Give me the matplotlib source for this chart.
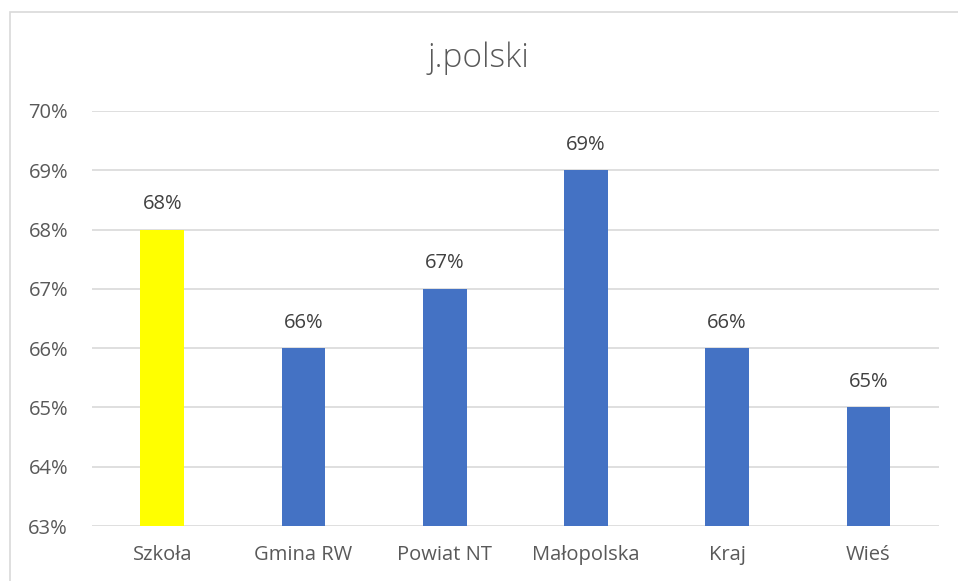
import matplotlib
matplotlib.use('Agg')
import matplotlib.pyplot as plt
from matplotlib.patches import Rectangle
from matplotlib.ticker import FuncFormatter

# dane
categories = ['Szkoła', 'Gmina RW', 'Powiat NT', 'Małopolska', 'Kraj', 'Wieś']
values = [68, 66, 67, 69, 66, 65]  # wynik w %
bar_colors = ['#FFFF00', '#4472C4', '#4472C4', '#4472C4', '#4472C4', '#4472C4']
y_ticks = [63, 64, 65, 66, 67, 68, 69, 70]

plt.rcParams['font.family'] = ['Open Sans', 'DejaVu Sans']
text_color = '#595959'

fig = plt.figure(figsize=(9.58, 5.81), dpi=100)

# ramka wykresu (ucięta z prawej i od dołu)
fig.patches.append(Rectangle((10 / 958, -0.1), 1.2, 1.1 - 12 / 581,
                             transform=fig.transFigure, fill=False,
                             edgecolor='#d9d9d9', linewidth=1.2))

ax = fig.add_axes([91.7 / 958, 55 / 581, (939 - 91.7) / 958, (526 - 111) / 581])
x = list(range(len(categories)))
ax.bar(x, [v - 63 for v in values], bottom=63, width=0.31, color=bar_colors, zorder=3)

for xi, v in zip(x, values):
    ax.text(xi, v + 0.26, f'{v}%', ha='center', va='bottom', fontsize=14.5, color='#404040')

ax.set_xlim(-0.5, len(categories) - 0.5)
ax.set_ylim(63, 70)
ax.set_yticks(y_ticks)
ax.yaxis.set_major_formatter(FuncFormatter(lambda v, p: f'{v:.0f}%'))
ax.set_xticks(x)
ax.set_xticklabels(categories)
ax.tick_params(axis='both', length=0, labelsize=14.5, colors=text_color)
ax.tick_params(axis='y', pad=17)
ax.tick_params(axis='x', pad=14)
ax.grid(axis='y', color='#d9d9d9', linewidth=1.2, zorder=0)
for s in ax.spines.values():
    s.set_visible(False)

fig.text(0.5, 1 - 58 / 581, 'j.polski', ha='center', va='center', fontsize=24,
         fontweight='light', color=text_color)

fig.savefig('out.png', dpi=100)
